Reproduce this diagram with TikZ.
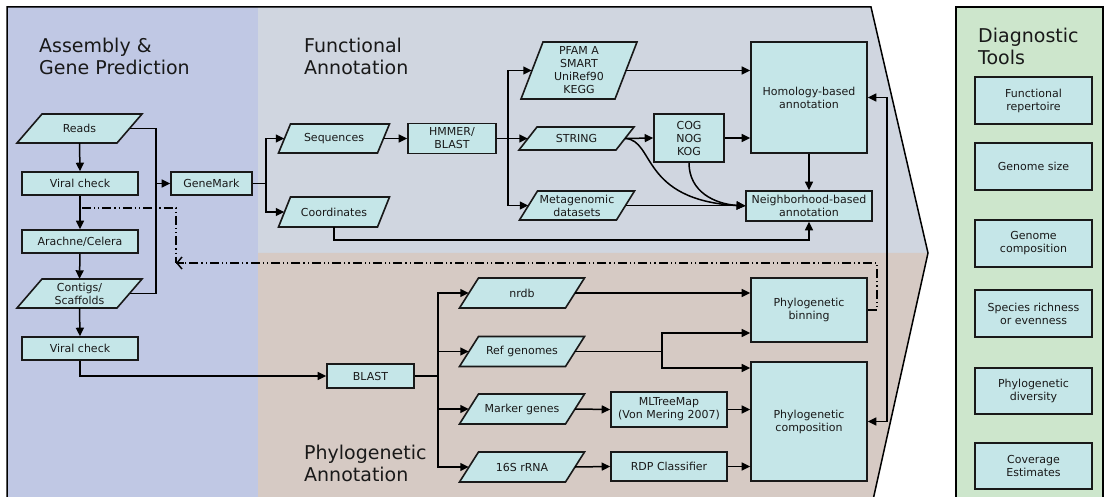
\documentclass[tikz,border=0pt]{standalone}
\usepackage{fontspec}
\setmainfont{DejaVu Sans}
\usetikzlibrary{arrows.meta,calc}
\definecolor{asmbg}{HTML}{C0C8E4}
\definecolor{funbg}{HTML}{D0D6E0}
\definecolor{phybg}{HTML}{D6CAC4}
\definecolor{diagbg}{HTML}{CDE6CC}
\definecolor{nodefill}{HTML}{C5E6E8}
\newcommand\lblfont{\fontsize{11}{13}\selectfont}
\newcommand\ttlfont{\fontsize{19}{22}\selectfont}
% data parallelogram: name, cx, cy, width (at mid-height), height, slant, text
\newcommand\dataio[7]{%
  \filldraw[parashape] ({#2-#4/2+#6/2},{#3-#5/2}) -- ({#2+#4/2+#6/2},{#3-#5/2})
    -- ({#2+#4/2-#6/2},{#3+#5/2}) -- ({#2-#4/2-#6/2},{#3+#5/2}) -- cycle;
  \node[paratext, minimum width=#4pt, minimum height=#5pt] (#1) at (#2,#3) {#7};}
\begin{document}
\begin{tikzpicture}[x=1pt,y=-1pt,
  box/.style={draw=black!90, line width=1.6pt, fill=nodefill, font=\lblfont, text=black!90, align=center, inner sep=1pt},
  paratext/.style={inner sep=0pt, font=\lblfont, text=black!90, align=center},
  parashape/.style={draw=black!90, line width=1.6pt, fill=nodefill, line join=miter},
  wire/.style={line width=1.5pt},
  arr/.style={line width=1.5pt, -{Triangle[length=8.5pt,width=8pt]}},
  dd/.style={line width=1.5pt, dash pattern=on 9pt off 3pt on 1.2pt off 3pt on 1.2pt off 3pt},
  title/.style={font=\ttlfont, text=black!90, align=left, anchor=north west, inner sep=0pt}
]
\useasboundingbox (0,0) rectangle (1104,497);

% panels
\fill[asmbg] (7,7) rectangle (258,500);
\fill[funbg] (258,7) -- (871,7) -- (928,253) -- (258,253) -- cycle;
\fill[phybg] (258,253) -- (928,253) -- (873,500) -- (258,500) -- cycle;
\draw[line width=1.5pt, line join=miter] (7,500) -- (7,7) -- (871,7) -- (928,253) -- (873,500);
\filldraw[fill=diagbg, line width=1.5pt] (956,7) rectangle (1103,502);

% titles
\node[title] (tasm) at (39,37.5) {Assembly \&\\Gene Prediction};
\node[title] (tfun) at (304,37.5) {Functional\\Annotation};
\node[title] (tphy) at (304,444.5) {Phylogenetic\\Annotation};
\node[title] (tdia) at (978,27.5) {Diagnostic\\Tools};

% assembly & gene prediction
\dataio{reads}{79.5}{128.5}{100}{29}{25}{Reads}
\node[box, minimum width=116pt, minimum height=23pt] (viral1) at (80,183.5) {Viral check};
\node[box, minimum width=116pt, minimum height=23pt] (arachne) at (80,241.5) {Arachne/Celera};
\dataio{contigs}{79.5}{293.5}{100}{29}{25}{Contigs/\\Scaffolds}
\node[box, minimum width=116pt, minimum height=23pt] (viral2) at (80,348.5) {Viral check};
\node[box, minimum width=81pt, minimum height=23pt] (genemark) at (211.5,183.5) {GeneMark};

% functional annotation
\dataio{seq}{334}{138.5}{99}{29}{12}{Sequences}
\dataio{coord}{334}{212}{99}{30}{12}{Coordinates}
\node[box, minimum width=88pt, minimum height=30pt] (hmmer) at (452,138.5) {HMMER/\\BLAST};
\dataio{pfam}{579}{70.5}{94}{57}{22}{PFAM A\\SMART\\UniRef90\\KEGG}
\dataio{string}{576.5}{138.5}{97}{23}{18}{STRING}
\dataio{meta}{577}{205.5}{97}{29}{18}{Metagenomic\\datasets}
\node[box, minimum width=70pt, minimum height=48pt] (cog) at (689,138) {COG\\NOG\\KOG};
\node[box, minimum width=116pt, minimum height=111pt] (homology) at (809,97.5) {Homology-based\\annotation};
\node[box, minimum width=126pt, minimum height=30pt] (neigh) at (809,206) {Neighborhood-based\\annotation};

% phylogenetic annotation
\node[box, minimum width=87pt, minimum height=24pt] (blast) at (370.5,376) {BLAST};
\dataio{nrdb}{522}{293}{106}{30}{19}{nrdb}
\dataio{refg}{522}{351.5}{106}{30}{19}{Ref genomes}
\dataio{marker}{522}{409}{106}{30}{19}{Marker genes}
\dataio{rrna}{522}{467}{106}{30}{19}{16S rRNA}
\node[box, minimum width=116pt, minimum height=35pt] (mltree) at (669,409.5) {MLTreeMap\\(Von Mering 2007)};
\node[box, minimum width=116pt, minimum height=29pt] (rdp) at (669,466.5) {RDP Classifier};
\node[box, minimum width=116pt, minimum height=64pt] (binning) at (809,310) {Phylogenetic\\binning};
\node[box, minimum width=116pt, minimum height=119pt] (compo) at (809,421.5) {Phylogenetic\\composition};

% diagnostic tools
\node[box, minimum width=117pt, minimum height=47pt] (drep) at (1033.5,100.5) {Functional\\repertoire};
\node[box, minimum width=117pt, minimum height=47pt] (dsize) at (1033.5,166.5) {Genome size};
\node[box, minimum width=117pt, minimum height=47pt] (dcomp) at (1033.5,243.5) {Genome\\composition};
\node[box, minimum width=117pt, minimum height=47pt] (drich) at (1033.5,313.5) {Species richness\\or evenness};
\node[box, minimum width=117pt, minimum height=46pt] (ddiv) at (1033.5,391) {Phylogenetic\\diversity};
\node[box, minimum width=117pt, minimum height=46pt] (dcov) at (1033.5,466) {Coverage\\Estimates};

% junction points
\coordinate (abus) at (156,183.5);
\coordinate (gmj) at (266,183.5);
\coordinate (hj) at (508,138.5);
\coordinate (cbend) at (809,240);
\coordinate (rfx) at (887,0);
\coordinate (bj) at (438,376);
\coordinate (rj) at (662,351.5);
\coordinate (ddcorner) at (176,263);
\coordinate (vdd) at (82,208);

% assembly flow
\draw[arr] (reads.south) -- (viral1.north);
\draw[arr] (viral1.south) -- (arachne.north);
\draw[arr] (arachne.south) -- (contigs.north);
\draw[arr] (contigs.south) -- (viral2.north);
\draw[wire] (reads.east) -| (abus) |- (contigs.east);
\draw[arr] (abus) -- (genemark.west);
\draw[arr] (viral2.south) |- (blast.west);

% functional flow
\draw[wire] (genemark.east) -- (gmj);
\draw[arr] (gmj) |- (seq.west);
\draw[arr] (gmj) |- (coord.west);
\draw[arr] (seq.east) -- (hmmer.west);
\draw[arr] (hmmer.east) -- (string.west);
\draw[arr] (hj) |- (pfam.west);
\draw[arr] (hj) |- (meta.west);
\draw[arr] (pfam.east) -- (pfam.east -| homology.west);
\draw[arr] (string.east) -- (cog.west);
\draw[arr] (cog.east) -- (cog.east -| homology.west);
\draw[arr] (homology.south) -- (neigh.north);
\draw[arr] (meta.east) -- (meta.east -| neigh.west);
\draw[arr] (string.east) .. controls (655,140) and (640,200) .. (neigh.west);
\draw[arr] (cog.south) .. controls (689,192) and (715,204) .. (neigh.west);
\draw[arr] (coord.south) |- (cbend) -- (neigh.south);
\draw[line width=1.5pt, {Triangle[length=8.5pt,width=8pt]}-{Triangle[length=8.5pt,width=8pt]}]
  (homology.east) -- (homology.east -| rfx) |- (compo.east);

% phylogenetic flow
\draw[wire] (blast.east) -- (bj);
\draw[arr] (bj) |- (nrdb.west);
\draw[arr] (bj) |- (refg.west);
\draw[arr] (bj) |- (marker.west);
\draw[arr] (bj) |- (rrna.west);
\draw[arr] (nrdb.east) -- (nrdb.east -| binning.west);
\draw[wire] (refg.east) -- (rj);
\draw[arr] (rj) |- ([yshift=-23pt]binning.west);
\draw[arr] (rj) |- ([yshift=53.5pt]compo.west);
\draw[arr] (marker.east) -- (mltree.west);
\draw[arr] (mltree.east) -- (mltree.east -| compo.west);
\draw[arr] (rrna.east) -- (rdp.west);
\draw[arr] (rdp.east) -- (rdp.east -| compo.west);

% feedback from binning (dash-dot-dot), with a solid open tip
\draw[dd] (binning.east) -- ++(9,0) |- (ddcorner);
\draw[dd] (vdd) -| (ddcorner);
\draw[line width=1.5pt, -{Straight Barb[length=5pt,width=12pt]}] ([xshift=8pt]ddcorner) -- (ddcorner);
\end{tikzpicture}
\end{document}
